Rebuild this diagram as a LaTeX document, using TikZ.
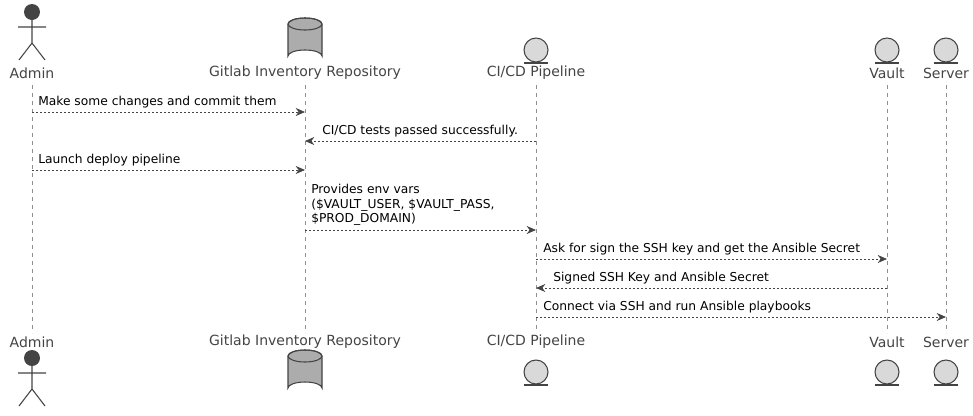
\documentclass[tikz,border=0pt]{standalone}
\usepackage{fontspec}
\setmainfont{DejaVu Sans}
\usetikzlibrary{arrows.meta}
\definecolor{ln}{HTML}{444444}
\begin{document}
\begin{tikzpicture}[x=0.75pt,y=-0.75pt,
  life/.style={draw=ln!60,dashed,dash pattern=on 3pt off 3pt,line width=0.5pt},
  msg/.style={draw=ln,dashed,dash pattern=on 1.5pt off 1.5pt,line width=0.6pt,-{Stealth[length=7pt,width=6pt]}},
  fig/.style={draw=ln,line width=0.8pt},
  plab/.style={font=\fontsize{10.5}{12}\selectfont,text=ln,inner sep=0},
  mlab/.style={font=\fontsize{9.2}{11}\selectfont,inner sep=0,anchor=south west,align=left}]
\useasboundingbox (0,0) rectangle (973,415);
\foreach \n/\x in {a/32,g/305,c/536,v/887,s/946}{
  \coordinate (\n t) at (\x,85); \coordinate (\n b) at (\x,333);
  \draw[life] (\n t) -- (\n b);}
\foreach \y/\p in {73/t,342/b}{
\node[plab] (la\p) at (32,\y) {Admin};
\node[plab] (lg\p) at (305,\y) {Gitlab Inventory Repository};
\node[plab] (lc\p) at (536,\y) {CI/CD Pipeline};
\node[plab] (lv\p) at (887,\y) {Vault};
\node[plab] (ls\p) at (946,\y) {Server};}
% actor
\foreach \o in {0,346}{
\begin{scope}[shift={(0,\o)}]
 \fill[ln] (32,12) circle[radius=8];
 \draw[fig] (32,20) -- (32,43) (18,27) -- (46,27) (32,43) -- (19,60) (32,43) -- (45,60);
\end{scope}}
% database
\foreach \o in {0,332}{
\begin{scope}[shift={(0,\o)}]
 \draw[fig,fill=gray!65] (288,24) -- (288,56) arc[x radius=17,y radius=6,start angle=180,end angle=360] -- (322,24);
 \draw[fig,fill=gray!65] (305,24) ellipse[x radius=17,y radius=6];
 \draw[fig] (288,24) arc[x radius=17,y radius=6,start angle=180,end angle=360];
\end{scope}}
% entities
\foreach \o in {0,322}{
\begin{scope}[shift={(0,\o)}]
 \foreach \x in {536,887,946}{
  \draw[fig,fill=gray!30] (\x,50) circle[radius=12];
  \draw[fig] (\x-12,63) -- (\x+12,63);}
\end{scope}}
\coordinate (m1a) at (32,112); \coordinate (m1b) at (305,112);
\draw[msg] (m1a) -- (m1b); \node[mlab] at (38,108) {Make some changes and commit them};
\coordinate (m2a) at (536,141); \coordinate (m2b) at (305,141);
\draw[msg] (m2a) -- (m2b); \node[mlab] at (322,137) {CI/CD tests passed successfully.};
\coordinate (m3a) at (32,170); \coordinate (m3b) at (305,170);
\draw[msg] (m3a) -- (m3b); \node[mlab] at (38,166) {Launch deploy pipeline};
\coordinate (m4a) at (305,230); \coordinate (m4b) at (536,230);
\draw[msg] (m4a) -- (m4b); \node[mlab] at (311,226) {Provides env vars\\(\$VAULT\_USER, \$VAULT\_PASS,\\\$PROD\_DOMAIN)};
\coordinate (m5a) at (536,259); \coordinate (m5b) at (887,259);
\draw[msg] (m5a) -- (m5b); \node[mlab] at (543,255) {Ask for sign the SSH key and get the Ansible Secret};
\coordinate (m6a) at (887,288); \coordinate (m6b) at (536,288);
\draw[msg] (m6a) -- (m6b); \node[mlab] at (553,284) {Signed SSH Key and Ansible Secret};
\coordinate (m7a) at (536,317); \coordinate (m7b) at (946,317);
\draw[msg] (m7a) -- (m7b); \node[mlab] at (543,313) {Connect via SSH and run Ansible playbooks};
\end{tikzpicture}
\end{document}
